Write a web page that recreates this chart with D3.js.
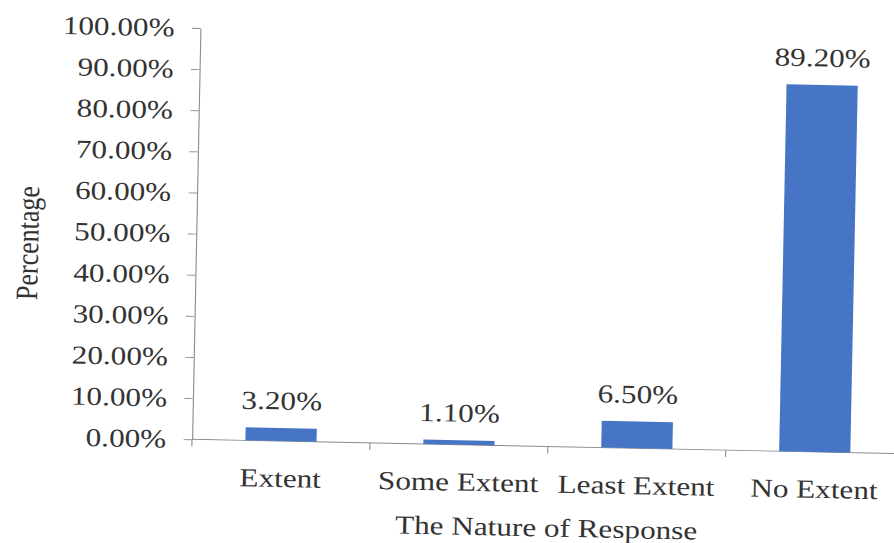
<!DOCTYPE html>
<html>
<head>
<meta charset="utf-8">
<script src="https://cdn.jsdelivr.net/npm/d3@7"></script>
<style>
  html, body { margin: 0; padding: 0; background: #fff; }
  svg { display: block; }
  text { font-family: "Liberation Serif", "Times New Roman", serif; fill: #333; }
</style>
</head>
<body>
<svg id="chart" width="894" height="543"></svg>
<script>
// Responses by nature of response
const categories = ["Extent", "Some Extent", "Least Extent", "No Extent"];
const percentages = [3.2, 1.1, 6.5, 89.2];
const yTicks = [0, 10, 20, 30, 40, 50, 60, 70, 80, 90, 100];
const xTitle = "The Nature of Response";
const yTitle = "Percentage";

const svg = d3.select("#chart");

// Plot frame: origin at the bottom-left corner of the axes,
// stretched horizontally and tilted slightly.
const originX = 192, originY = 439.3;
const stretchX = 1.2;
const tilt = 1.16;
const plotW = 4 * 148.3;
const plotH = 411.4;
const fontSize = 26;

const frame = svg.append("g")
  .attr("transform", `rotate(${tilt}, ${originX}, ${originY})`)
  .append("g")
  .attr("transform", `translate(${originX}, ${originY}) scale(${stretchX}, 1)`);

const x = d3.scaleBand()
  .domain(categories)
  .range([0, plotW])
  .paddingInner(0.6)
  .paddingOuter(0.3);

const y = d3.scaleLinear()
  .domain([0, 100])
  .range([0, -plotH]);

const axisColor = "#8a8a8a";

// Y axis
const yAxis = frame.append("g")
  .call(d3.axisLeft(y)
    .tickValues(yTicks)
    .tickSize(7)
    .tickSizeOuter(0)
    .tickPadding(14.5)
    .tickFormat(d => d3.format(".2f")(d) + "%"));
yAxis.select(".domain").attr("stroke", axisColor).attr("stroke-width", 0.9);
yAxis.selectAll(".tick line").attr("stroke", axisColor).attr("stroke-width", 0.9);
yAxis.selectAll(".tick text")
  .attr("font-size", fontSize)
  .attr("font-family", null)
  .attr("fill", "#333")
  .attr("dy", "0.32em");

// X axis line and category boundary ticks
const step = x.step();
frame.append("line")
  .attr("x1", 0).attr("x2", plotW)
  .attr("y1", y(0)).attr("y2", y(0))
  .attr("stroke", axisColor).attr("stroke-width", 0.9);

frame.append("g")
  .selectAll("line")
  .data(d3.range(categories.length + 1))
  .join("line")
  .attr("x1", i => i * step)
  .attr("x2", i => i * step)
  .attr("y1", y(0))
  .attr("y2", y(0) + 7)
  .attr("stroke", axisColor).attr("stroke-width", 0.9);

// Category labels
const xAxis = frame.append("g")
  .call(d3.axisBottom(x).tickSize(0).tickPadding(27.5));
xAxis.select(".domain").remove();
xAxis.selectAll(".tick text")
  .attr("font-size", fontSize)
  .attr("font-family", null)
  .attr("fill", "#333")
  .attr("dy", "0.71em");

// Bars
frame.append("g")
  .selectAll("rect")
  .data(categories)
  .join("rect")
  .attr("x", d => x(d))
  .attr("width", x.bandwidth())
  .attr("y", (d, i) => y(percentages[i]))
  .attr("height", (d, i) => y(0) - y(percentages[i]))
  .attr("fill", "#4675c5");

// Value labels
frame.append("g")
  .selectAll("text")
  .data(categories)
  .join("text")
  .attr("x", d => x(d) + x.bandwidth() / 2)
  .attr("y", (d, i) => y(percentages[i]) - 18.5)
  .attr("text-anchor", "middle")
  .attr("font-size", fontSize)
  .text((d, i) => d3.format(".2f")(percentages[i]) + "%");

// Axis titles
frame.append("text")
  .attr("x", plotW / 2)
  .attr("y", 90)
  .attr("text-anchor", "middle")
  .attr("font-size", fontSize)
  .text(xTitle);

frame.append("text")
  .attr("transform", `translate(-131.5, -193) rotate(-90)`)
  .attr("text-anchor", "middle")
  .attr("font-size", fontSize)
  .text(yTitle);
</script>
</body>
</html>
